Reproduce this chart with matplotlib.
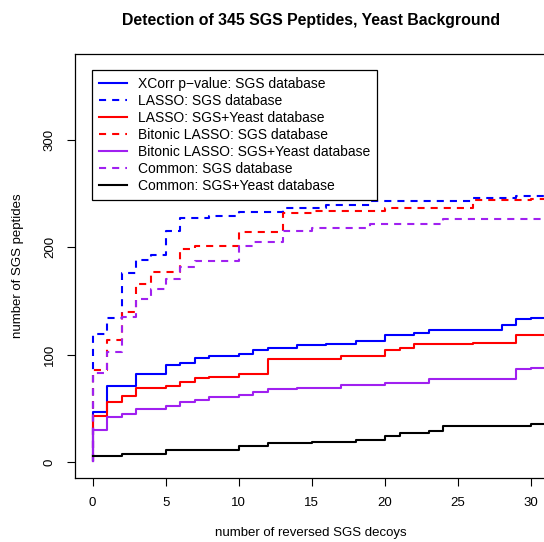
import matplotlib
matplotlib.use("Agg")
import matplotlib.pyplot as plt

plt.rcParams['font.family'] = ['Liberation Sans', 'DejaVu Sans']

# step curves: number of reversed decoys vs. number of SGS peptides detected
xcorr_sgs_x = [0, 0, 1, 3, 5, 6, 7, 8, 10, 11, 12, 14, 16, 18, 20, 22, 23, 28, 29, 30, 32]
xcorr_sgs_y = [1, 47, 71, 82, 90, 92, 97, 99, 101, 104, 106, 109, 110, 113, 118, 120, 123, 128, 133, 134, 134]

lasso_sgs_x = [0, 0, 1, 2, 3, 4, 5, 6, 8, 10, 13, 16, 19, 26, 29, 32]
lasso_sgs_y = [1, 119, 134, 176, 188, 193, 215, 227, 229, 233, 236, 239, 243, 246, 248, 248]

lasso_yeast_x = [0, 0, 1, 2, 3, 5, 6, 7, 8, 10, 12, 17, 20, 21, 22, 26, 29, 32]
lasso_yeast_y = [1, 43, 56, 62, 69, 71, 75, 78, 79, 82, 96, 99, 104, 106, 110, 111, 118, 118]

bitonic_sgs_x = [0, 0, 1, 2, 3, 4, 6, 7, 10, 13, 15, 20, 26, 30, 32]
bitonic_sgs_y = [1, 86, 114, 140, 166, 177, 198, 201, 214, 232, 234, 236, 244, 245, 245]

bitonic_yeast_x = [0, 0, 1, 2, 3, 5, 6, 7, 8, 10, 11, 12, 14, 17, 20, 23, 29, 30, 32]
bitonic_yeast_y = [1, 30, 42, 45, 50, 52, 56, 58, 61, 63, 65, 68, 69, 72, 74, 77, 87, 88, 88]

common_sgs_x = [0, 0, 1, 2, 3, 4, 5, 6, 7, 10, 11, 13, 15, 19, 24, 32]
common_sgs_y = [1, 83, 103, 135, 152, 161, 170, 182, 187, 201, 205, 215, 218, 222, 226, 226]

common_yeast_x = [0, 2, 5, 10, 12, 15, 18, 20, 21, 23, 24, 30, 32]
common_yeast_y = [6, 8, 11, 15, 18, 19, 21, 24, 27, 29, 34, 36, 36]

labels = ["XCorr p\u2212value: SGS database",
          "LASSO: SGS database",
          "LASSO: SGS+Yeast database",
          "Bitonic LASSO: SGS database",
          "Bitonic LASSO: SGS+Yeast database",
          "Common: SGS database",
          "Common: SGS+Yeast database"]

dash = (0, (3.4, 2.9))

fig = plt.figure(figsize=(5.44, 5.42), dpi=100)
# the plot region runs past the right edge of the picture, as in the reference
ax = fig.add_axes([75/544, (542-478)/542, (548.6-75)/544, (478-54)/542])

ax.step(xcorr_sgs_x, xcorr_sgs_y, where='post', color='blue', lw=1.5, label=labels[0])
ax.step(lasso_sgs_x, lasso_sgs_y, where='post', color='blue', lw=1.5, ls=dash, label=labels[1])
ax.step(lasso_yeast_x, lasso_yeast_y, where='post', color='red', lw=1.5, label=labels[2])
ax.step(bitonic_sgs_x, bitonic_sgs_y, where='post', color='red', lw=1.5, ls=dash, label=labels[3])
ax.step(bitonic_yeast_x, bitonic_yeast_y, where='post', color='#A020F0', lw=1.5, label=labels[4])
ax.step(common_sgs_x, common_sgs_y, where='post', color='#A020F0', lw=1.5, ls=dash, label=labels[5])
ax.step(common_yeast_x, common_yeast_y, where='post', color='black', lw=1.5, label=labels[6])

ax.set_xlim(-1.2, 31.2)
ax.set_ylim(-14.6, 379.6)
ax.set_xticks([0, 5, 10, 15, 20, 25, 30])
ax.set_yticks([0, 100, 200, 300])
ax.tick_params(direction='out', length=5.8, width=0.8, labelsize=9.5, pad=8)
for lab in ax.get_yticklabels():
    lab.set_rotation(90)
    lab.set_va('center')
for s in ax.spines.values():
    s.set_linewidth(0.9)

leg = ax.legend(loc='upper left', bbox_to_anchor=(92/544, 1 - 70/542),
                bbox_transform=fig.transFigure, borderaxespad=0,
                fancybox=False, edgecolor='black', framealpha=1,
                fontsize=10, handlelength=2.0, handletextpad=0.8,
                borderpad=0.5, labelspacing=0.22)
leg.get_frame().set_linewidth(0.9)

fig.text(311/544, 1 - 20/542, "Detection of 345 SGS Peptides, Yeast Background",
         ha='center', va='center', fontsize=11.4, fontweight='bold')
fig.text(311/544, 1 - 533/542, "number of reversed SGS decoys",
         ha='center', va='center', fontsize=9.5)
fig.text(18/544, 1 - 266/542, "number of SGS peptides",
         ha='center', va='center', rotation=90, fontsize=9.5)

fig.savefig("out.png", dpi=100)
